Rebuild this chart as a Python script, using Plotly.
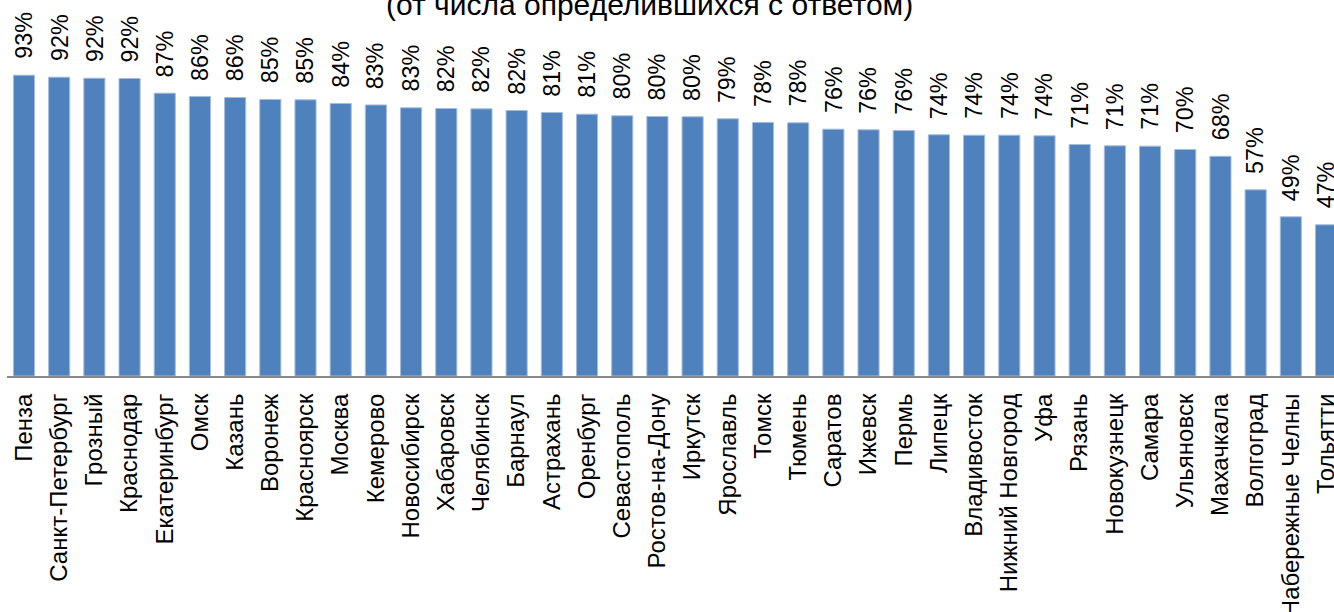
import plotly.graph_objects as go

cities = [
    "Пенза", "Санкт-Петербург", "Грозный", "Краснодар", "Екатеринбург", "Омск",
    "Казань", "Воронеж", "Красноярск", "Москва", "Кемерово", "Новосибирск",
    "Хабаровск", "Челябинск", "Барнаул", "Астрахань", "Оренбург", "Севастополь",
    "Ростов-на-Дону", "Иркутск", "Ярославль", "Томск", "Тюмень", "Саратов",
    "Ижевск", "Пермь", "Липецк", "Владивосток", "Нижний Новгород", "Уфа",
    "Рязань", "Новокузнецк", "Самара", "Ульяновск", "Махачкала", "Волгоград",
    "Набережные Челны", "Тольятти",
]
values = [
    92.55, 91.94, 91.63, 91.54, 87.02, 86.02, 85.69, 85.08, 84.98, 83.85,
    83.40, 82.52, 82.31, 82.20, 81.69, 81.08, 80.55, 80.06, 79.85, 79.75,
    79.14, 78.02, 77.90, 75.94, 75.75, 75.54, 74.22, 74.09, 74.09, 73.90,
    71.23, 70.83, 70.71, 69.69, 67.60, 57.29, 48.98, 46.52,
]
value_labels = [f"{round(v)}%" for v in values]
title_text = "(от числа определившихся с ответом)"

FONT = "Liberation Sans, Arial, sans-serif"

fig = go.Figure(
    go.Bar(
        x=cities,
        y=values,
        marker=dict(color="#4F81BD", line=dict(color="#A3BDE0", width=1)),
        hoverinfo="skip",
    )
)

annotations = []
for c, v, t in zip(cities, values, value_labels):
    annotations.append(dict(
        x=c, y=v, xref="x", yref="y", text=t, textangle=-90,
        showarrow=False, xanchor="center", yanchor="bottom", yshift=14,
        font=dict(family=FONT, size=23.3, color="black"),
    ))
annotations.append(dict(
    x=0.4838, y=1, xref="paper", yref="paper", text=title_text,
    showarrow=False, xanchor="center", yanchor="bottom", yshift=-23,
    font=dict(family=FONT, size=30, color="black"),
))

fig.update_layout(
    width=1334, height=612,
    margin=dict(l=7, r=0, t=0, b=236, pad=0),
    paper_bgcolor="white", plot_bgcolor="white",
    bargap=0.4,
    showlegend=False,
    annotations=annotations,
    font=dict(family=FONT, color="black"),
)
fig.update_xaxes(
    type="category",
    range=[-0.483, 37.227],
    showline=True, linecolor="#8A8A8A", linewidth=2,
    ticks="", tickangle=-90,
    tickfont=dict(family=FONT, size=24, color="black"),
    ticklabelstandoff=6,
    automargin=False, showgrid=False, zeroline=False,
)
fig.update_yaxes(
    range=[0, 376 / 3.25], visible=False, showgrid=False, zeroline=False,
)

fig.write_html(
    "out.html",
    config={"displayModeBar": False},
    post_script="document.body.style.margin='0';",
)
